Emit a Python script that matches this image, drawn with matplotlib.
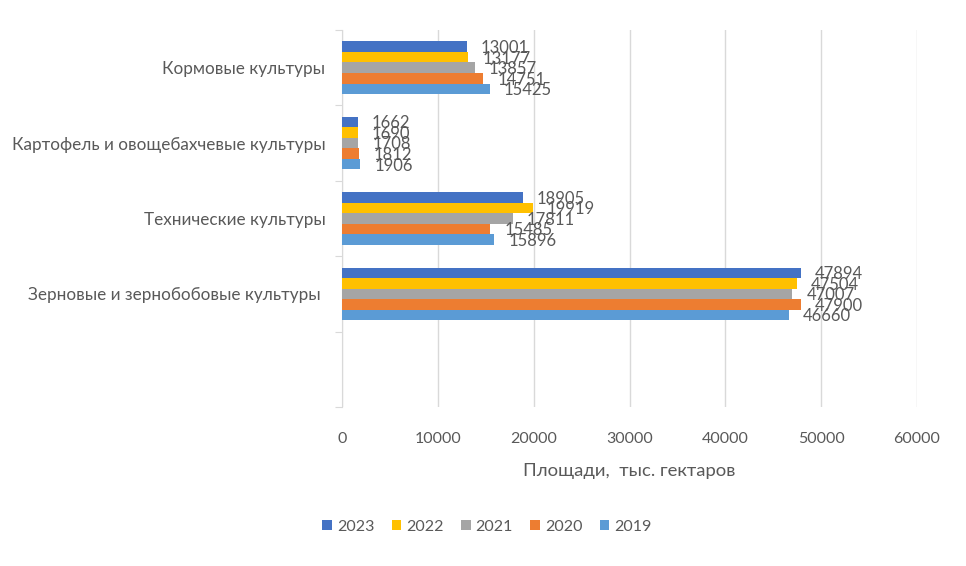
import numpy as np
import matplotlib
matplotlib.use('Agg')
import matplotlib.pyplot as plt

plt.rcParams['font.family'] = ['Lato', 'DejaVu Sans']

# категории сверху вниз (последняя — пустая, как в исходной диаграмме)
categories = ['Кормовые культуры', 'Картофель и овощебахчевые культуры',
              'Технические культуры', 'Зерновые и зернобобовые культуры ', '']
years = ['2023', '2022', '2021', '2020', '2019']
v2023 = [13001, 1662, 18905, 47894]
v2022 = [13177, 1690, 19919, 47504]
v2021 = [13857, 1708, 17811, 47007]
v2020 = [14751, 1812, 15485, 47900]
v2019 = [15425, 1906, 15896, 46660]
series = [v2023, v2022, v2021, v2020, v2019]
colors = ['#4472C4', '#FFC000', '#A5A5A5', '#ED7D31', '#5B9BD5']
xticks = [0, 10000, 20000, 30000, 40000, 50000, 60000]

txt = '#595959'

fig = plt.figure(figsize=(9.66, 5.66), dpi=100)
ax = fig.add_axes([342/966, 1-407/566, (917-342)/966, (407-30)/566])

h = 0.14
pos = np.arange(4)
for i, (vals, c, yr) in enumerate(zip(series, colors, years)):
    y = pos + (i - 2) * h
    bars = ax.barh(y, vals, height=h, color=c, label=yr, zorder=3)
    for yy, v in zip(y, vals):
        ax.annotate(str(v), (v, yy), xytext=(10, -1), textcoords='offset points',
                    ha='left', va='center', fontsize=12, color=txt, zorder=4)

ax.set_xlim(0, 60000)
ax.set_ylim(4.5, -0.5)
ax.set_xticks(xticks)
ax.set_xticklabels([str(t) for t in xticks], fontsize=11.5, color=txt)
ax.tick_params(axis='x', length=0, pad=18)
ax.grid(axis='x', color='#D9D9D9', lw=1, zorder=0)

ax.set_yticks(np.arange(-0.5, 5, 1))
ax.set_yticklabels([])
ax.set_yticks(np.arange(5), minor=True)
ax.set_yticklabels(categories, minor=True, fontsize=12.3, color=txt)
ax.tick_params(axis='y', which='major', length=5, color='#D9D9D9')
ax.tick_params(axis='y', which='minor', length=0, pad=12)

for s in ['top', 'right', 'bottom']:
    ax.spines[s].set_visible(False)
ax.spines['left'].set_color('#D9D9D9')

ax.set_xlabel('Площади,  тыс. гектаров', fontsize=13.3, color=txt, labelpad=12)

handles, labels = ax.get_legend_handles_labels()
fig.legend(handles, labels, loc='center', bbox_to_anchor=(487/966, 1-527/566),
           ncol=5, frameon=False, fontsize=11.5, labelcolor=txt,
           handlelength=0.6, handleheight=0.6, handletextpad=0.3, columnspacing=1.1)

fig.savefig('out.png', dpi=100)
